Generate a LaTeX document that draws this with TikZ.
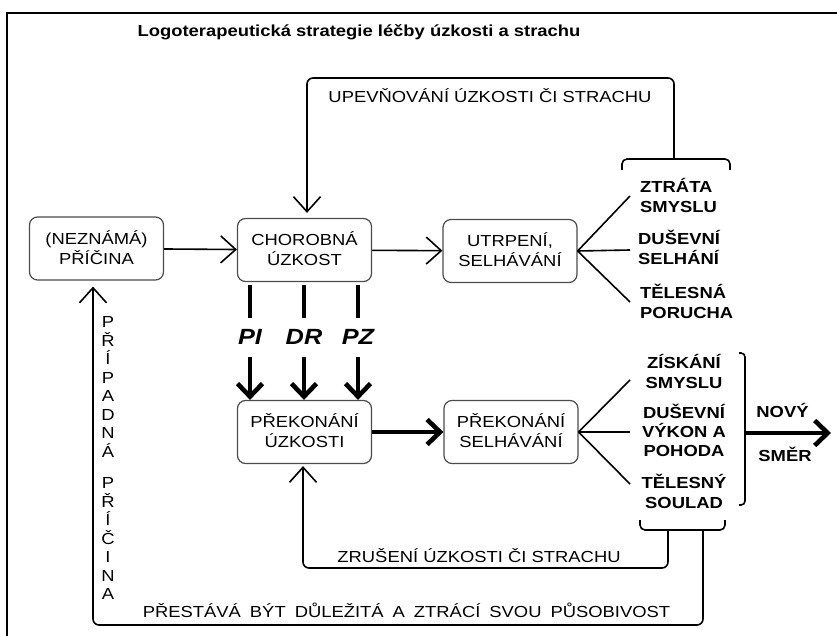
\documentclass[tikz,border=0pt]{standalone}
\usepackage{fontspec}
\setmainfont[FakeStretch=1.15]{Liberation Sans}
\usetikzlibrary{arrows.meta}
\newcommand{\Tr}{\rule{0pt}{15pt}}
\newcommand{\Br}{\rule[-3.5pt]{0pt}{3.5pt}}
\tikzset{
  box/.style={draw=black!70, line width=1.2pt, rounded corners=8pt, minimum width=134pt, minimum height=63pt, inner sep=0pt, align=center, font=\fontsize{16}{20}\selectfont},
  lbl/.style={inner sep=0pt, font=\fontsize{16}{20}\selectfont},
  itm/.style={inner sep=0pt, font=\bfseries\fontsize{16}{20}\selectfont},
  tlbl/.style={inner sep=0pt, font=\bfseries\itshape\fontsize{22}{26}\selectfont},
  conn/.style={line width=1.6pt, rounded corners=6pt},
  thk/.style={line width=4.6pt},
  barb/.tip={Straight Barb[length=15pt,width=27pt]},
  tbarb/.tip={Straight Barb[length=13pt,width=25pt]}
}
\begin{document}
\begin{tikzpicture}[x=1pt,y=-1pt]
\useasboundingbox (0,0) rectangle (837,636);
% frame
\draw[line width=2.8pt] (7,636) -- (7,13) -- (837,13);
% title
\node[lbl,font=\bfseries\fontsize{16}{20}\selectfont] (title) at (359,30.5) {\Tr Logoterapeutická strategie léčby úzkosti a strachu\Br};
% boxes
\node[box] (nez) at (96.5,248.5) {\Tr(NEZNÁMÁ)\\\Tr PŘÍČINA\Br};
\node[box] (chor) at (304.5,250) {\Tr CHOROBNÁ\\\Tr ÚZKOST\Br};
\node[box] (utr) at (510,251) {\Tr UTRPENÍ,\\\Tr SELHÁVÁNÍ\Br};
\node[box] (prek) at (304.5,432) {\Tr PŘEKONÁNÍ\\\Tr ÚZKOSTI\Br};
\node[box] (preks) at (511,432) {\Tr PŘEKONÁNÍ\\\Tr SELHÁVÁNÍ\Br};
% items group 1
\node[itm,anchor=west,align=left] (ztr) at (640,196.7) {\Tr ZTRÁTA\\\Tr SMYSLU\Br};
\node[itm,anchor=west,align=left] (dus1) at (638,249) {\Tr DUŠEVNÍ\\\Tr SELHÁNÍ\Br};
\node[itm,anchor=west,align=left] (tel) at (640,302.5) {\Tr TĚLESNÁ\\\Tr PORUCHA\Br};
% items group 2
\node[itm,align=center] (zis) at (684,372.5) {\Tr ZÍSKÁNÍ\\\Tr SMYSLU\Br};
\node[itm,align=center,font=\bfseries\fontsize{16}{19}\selectfont] (dus2) at (684,431.5) {\Tr DUŠEVNÍ\\\Tr VÝKON A\\\Tr POHODA\Br};
\node[itm,align=center] (tels) at (684,492.5) {\Tr TĚLESNÝ\\\Tr SOULAD\Br};
\node[itm] (novy) at (782.5,411.5) {\Tr NOVÝ\Br};
\node[itm] (smer) at (785,455.5) {\Tr SMĚR\Br};
% labels
\node[lbl] (upev) at (490,96.5) {\Tr UPEVŇOVÁNÍ ÚZKOSTI ČI STRACHU\Br};
\node[lbl] (zrus) at (479,557) {\Tr ZRUŠENÍ ÚZKOSTI ČI STRACHU\Br};
\node[lbl] (prest) at (406.5,612) {\spaceskip=9pt\relax\Tr PŘESTÁVÁ BÝT DŮLEŽITÁ A ZTRÁCÍ SVOU PŮSOBIVOST\Br};
\node[lbl,align=center,font=\fontsize{16}{18.5}\selectfont] (vert) at (108,458) {\Tr P\\Ř\\Í\\P\\A\\D\\N\\Á\\[13pt]P\\Ř\\Í\\Č\\I\\N\\A\Br};
% PI DR PZ
\node[tlbl] (pi) at (250,337) {PI};
\node[tlbl] (dr) at (304,337) {DR};
\node[tlbl] (pz) at (358,337) {PZ};
\foreach \n in {pi,dr,pz}{
  \draw[thk] ([yshift=-3pt]chor.south -| \n) -- ([yshift=19pt]\n.center);
  \draw[thk,-{tbarb}] ([yshift=-20pt]\n.center) -- (prek.north -| \n);
}
% main arrows
\draw[conn,-{barb}] (nez) -- (chor);
\draw[conn,-{barb}] (chor) -- (utr);
\draw[thk,-{tbarb}] (prek) -- (preks);
% fan lines
\coordinate (a1) at (630,196);
\coordinate (a2) at (630,250);
\coordinate (a3) at (630,302);
\coordinate (b1) at (630,380);
\coordinate (b2) at (630,432);
\coordinate (b3) at (630,484);
\foreach \c in {a1,a2,a3}{\draw[line width=1.6pt] (utr.east) -- (\c);}
\foreach \c in {b1,b2,b3}{\draw[line width=1.6pt] (preks.east) -- (\c);}
% top bracket and feedback
\coordinate (tb) at (674,159);
\draw[conn,rounded corners=5pt] (622,170) |- (tb) -| (730,170);
\draw[conn,-{barb},shorten >=5pt] (tb) -- (674,78) -| ([xshift=2.5pt]chor.north);
% bottom bracket and feedbacks
\coordinate (bb1) at (668,530);
\coordinate (bb2) at (703,530);
\draw[conn,rounded corners=5pt] (640,520) |- (683,530) -| (725,520);
\draw[conn,-{barb},shorten >=2pt] (bb1) -- (668,568) -| ([xshift=-1.5pt]prek.south);
\draw[conn,-{barb},shorten >=6pt] (bb2) -- (703,625) -| ([xshift=-3.5pt]nez.south);
% right bracket and new direction
\draw[conn,rounded corners=4pt] (739,353) -| (745,505) -- (739,505);
\coordinate (rb) at (745,433);
\coordinate (tipN) at (831,433);
\draw[thk,-{tbarb}] (rb) -- (tipN);
\end{tikzpicture}
\end{document}
